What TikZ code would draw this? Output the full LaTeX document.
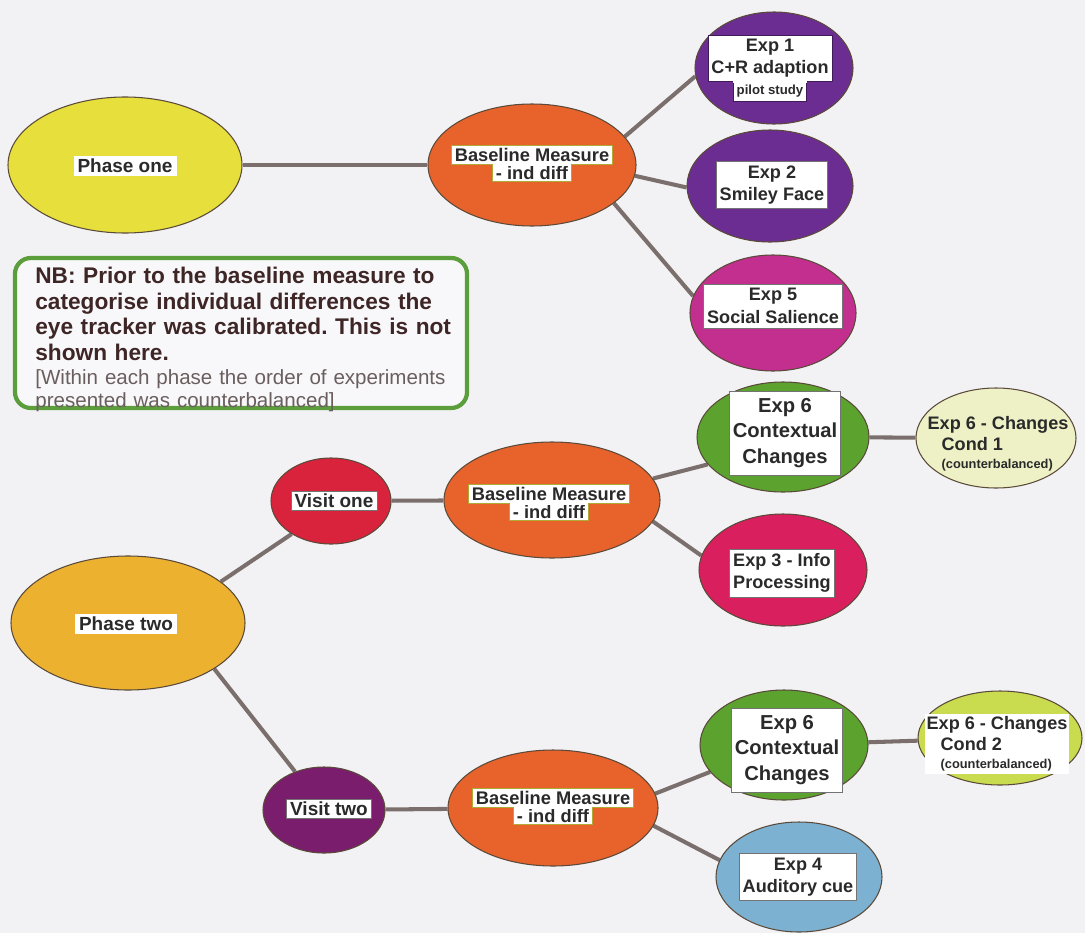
\documentclass[tikz,border=0pt]{standalone}
\usepackage{fontspec}
\setmainfont{Liberation Sans}
\usetikzlibrary{shapes.geometric}
\frenchspacing

\definecolor{paper}{HTML}{F2F2F4}
\definecolor{linkcol}{HTML}{7A6F6C}
\definecolor{rimcol}{HTML}{5A4A3A}
\definecolor{inkcol}{HTML}{2A2A2A}
\definecolor{cPhaseOne}{HTML}{E6DF3C}
\definecolor{cPhaseTwo}{HTML}{EDB130}
\definecolor{cBase}{HTML}{E8632C}
\definecolor{cPurple}{HTML}{6B2D92}
\definecolor{cMagenta}{HTML}{C22F8E}
\definecolor{cGreen}{HTML}{5BA22F}
\definecolor{cCondA}{HTML}{EEF1C6}
\definecolor{cCondB}{HTML}{C9DB4E}
\definecolor{cVisitA}{HTML}{D9223C}
\definecolor{cVisitB}{HTML}{7A1D6D}
\definecolor{cInfo}{HTML}{DA1F5F}
\definecolor{cAudio}{HTML}{7DB1D1}
\definecolor{nbgreen}{HTML}{5C9E3B}
\definecolor{notecol}{HTML}{6A5E5E}

\pgfdeclarelayer{bg}
\pgfsetlayers{bg,main}

\tikzset{
  blob/.style={ellipse, draw=rimcol, line width=0.6pt, inner sep=0pt},
  ell/.style n args={2}{minimum width=#1*0.02cm, minimum height=#2*0.02cm},
  link/.style={draw=linkcol, line width=2.3pt},
  lab/.style={fill=white, draw=black!55, line width=0.4pt, inner xsep=2pt,
    inner ysep=1.5pt, align=center, text=inkcol},
  bigf/.style={font=\bfseries\fontsize{10.8}{12}\selectfont},
  basef/.style={font=\bfseries\fontsize{10.4}{11.6}\selectfont},
  expf/.style={font=\bfseries\fontsize{10.3}{12.8}\selectfont, inner ysep=2.5pt},
  sixf/.style={font=\bfseries\fontsize{11.5}{14.6}\selectfont, inner ysep=4pt},
  condf/.style={font=\bfseries\fontsize{10.3}{12}\selectfont},
}

\begin{document}
\begin{tikzpicture}[x=0.02cm, y=-0.02cm]
\begin{pgfonlayer}{bg}
  \fill[paper] (0,0) rectangle (1085,933);
\end{pgfonlayer}
\useasboundingbox (0,0) rectangle (1085,933);

% ---- phase one branch ----
\node[blob, fill=cPhaseOne, ell={234}{136}] (p1) at (125,165) {};
\node[blob, fill=cBase, ell={208}{122}] (b1) at (532,165) {};
\node[blob, fill=cPurple, ell={158}{112}] (e1) at (774,68) {};
\node[blob, fill=cPurple, ell={166}{112}] (e2) at (770,186) {};
\node[blob, fill=cMagenta, ell={166}{116}] (e5) at (773,313) {};

% ---- phase two branch ----
\node[blob, fill=cPhaseTwo, ell={234}{134}] (p2) at (128,623) {};
\node[blob, fill=cVisitA, ell={120}{86}] (v1) at (331,501) {};
\node[blob, fill=cBase, ell={216}{116}] (b2) at (552,500) {};
\node[blob, fill=cGreen, ell={172}{110}] (e6a) at (783,437) {};
\node[blob, fill=cCondA, ell={160}{100}] (c1) at (996,438) {};
\node[blob, fill=cInfo, ell={168}{112}] (e3) at (783,570) {};
\node[blob, fill=cVisitB, ell={122}{86}] (v2) at (324,810) {};
\node[blob, fill=cBase, ell={210}{116}] (b3) at (553,808) {};
\node[blob, fill=cGreen, ell={168}{110}] (e6b) at (784,745) {};
\node[blob, fill=cCondB, ell={164}{94}] (c2) at (1000,738) {};
\node[blob, fill=cAudio, ell={166}{110}] (e4) at (799,877) {};

% ---- connectors ----
\begin{pgfonlayer}{bg}
  \draw[link] (p1) -- (b1);
  \draw[link] (b1.17) -- (e1.186);
  \draw[link] (b1.-6) -- (e2.181);
  \draw[link] (b1.-25) -- (e5.168);
  \draw[link] (p2.24) -- (v1.220);
  \draw[link] (p2.-28) -- (v2.127);
  \draw[link] (v1) -- (b2);
  \draw[link] (b2.12) -- (e6a.200);
  \draw[link] (b2.-12) -- (e3.170);
  \draw[link] (e6a) -- (c1);
  \draw[link] (v2) -- (b3);
  \draw[link] (b3.8) -- (e6b.200);
  \draw[link] (b3.-10) -- (e4.168);
  \draw[link] (e6b) -- (c2);
\end{pgfonlayer}

% ---- labels ----
\node[lab, bigf, draw=white] (p1t) at (125,166) {Phase one};
\node[lab, bigf, draw=white] (p2t) at (126,624) {Phase two};
\node[lab, bigf] (v1t) at (334,501) {Visit one};
\node[lab, bigf] (v2t) at (329,809) {Visit two};

\node[lab, basef, draw=olive!70] (b1u) at (532,155) {Baseline Measure};
\node[lab, basef, draw=olive!70, anchor=north, inner ysep=0.8pt] (b1l) at (b1u.south) {- ind diff};
\fill[white] ([xshift=0.3pt,yshift=0.8pt]b1l.north west) rectangle ([xshift=-0.3pt,yshift=-0.8pt]b1l.north east);
\node[lab, basef, draw=olive!70] (b2u) at (549,494) {Baseline Measure};
\node[lab, basef, draw=olive!70, anchor=north, inner ysep=0.8pt] (b2l) at (b2u.south) {- ind diff};
\fill[white] ([xshift=0.3pt,yshift=0.8pt]b2l.north west) rectangle ([xshift=-0.3pt,yshift=-0.8pt]b2l.north east);
\node[lab, basef, draw=olive!70] (b3u) at (553,798) {Baseline Measure};
\node[lab, basef, draw=olive!70, anchor=north, inner ysep=0.8pt] (b3l) at (b3u.south) {- ind diff};
\fill[white] ([xshift=0.3pt,yshift=0.8pt]b3l.north west) rectangle ([xshift=-0.3pt,yshift=-0.8pt]b3l.north east);

\node[lab, expf, draw=cPurple!60!black, inner ysep=2pt] (e1u) at (770,58) {Exp 1\\C+R adaption};
\node[lab, draw=cPurple!60!black, anchor=north, inner ysep=2pt,
  font=\bfseries\fontsize{7.5}{9}\selectfont] (e1l) at (e1u.south) {pilot study};
\fill[white] ([xshift=0.3pt,yshift=0.8pt]e1l.north west) rectangle ([xshift=-0.3pt,yshift=-0.8pt]e1l.north east);

\node[lab, expf] (e2t) at (772,185) {Exp 2\\Smiley Face};
\node[lab, expf] (e5t) at (773,306) {Exp 5\\Social Salience};
\node[lab, expf] (e3t) at (782,573) {Exp 3 - Info\\Processing};
\node[lab, expf] (e4t) at (798,877) {Exp 4\\Auditory cue};
\node[lab, sixf] (e6at) at (785,433) {Exp 6\\Contextual\\Changes};
\node[lab, sixf] (e6bt) at (787,750) {Exp 6\\Contextual\\Changes};

\node[lab, condf, draw=none, fill=none, align=left, inner sep=0pt] (c1t) at (998,444)
  {Exp 6 - Changes\\\hspace{8pt}Cond 1\\[-2pt]\hspace{8pt}{\fontsize{7.3}{8.5}\selectfont(counterbalanced)}};
\node[lab, condf, draw=none, align=left, inner xsep=1pt, inner ysep=1.5pt] (c2t) at (997,744)
  {Exp 6 - Changes\\\hspace{8pt}Cond 2\\[-2pt]\hspace{8pt}{\fontsize{7.3}{8.5}\selectfont(counterbalanced)}};

% ---- note box ----
\node[draw=nbgreen, line width=2.4pt, rounded corners=9pt, fill=paper!50!white,
  minimum width=452*0.02cm, minimum height=150*0.02cm, inner sep=0pt] (nb) at (241,333) {};
\node[anchor=north west, inner sep=0pt, align=left, text width=450*0.02cm,
  font=\bfseries\fontsize{12.9}{14.5}\selectfont, text=inkcol!90!red] (nbt) at (35,267)
  {NB: Prior to the baseline measure to\\categorise individual differences the\\eye tracker was calibrated. This is not\\shown here.};
\node[anchor=north west, inner sep=0pt, align=left, text width=425*0.02cm,
  font=\fontsize{11.7}{13}\selectfont, text=notecol] (nbs) at (35,369)
  {[Within each phase the order of experiments\\presented was counterbalanced]};
\end{tikzpicture}
\end{document}
